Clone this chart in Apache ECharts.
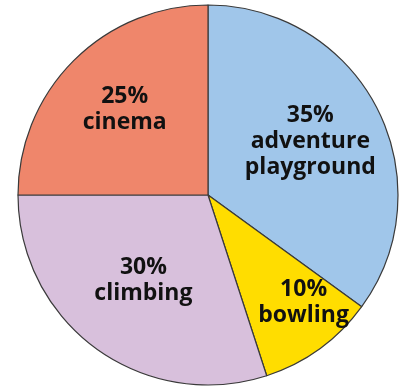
<!DOCTYPE html>
<html>
<head>
<meta charset="utf-8">
<script src="https://cdn.jsdelivr.net/npm/echarts@6/dist/echarts.min.js"></script>
<style>
html,body{margin:0;padding:0;background:#fff;}
#chart{width:401px;height:388px;}
</style>
</head>
<body>
<div id="chart"></div>
<script>
const categories = ['adventure\nplayground', 'bowling', 'climbing', 'cinema'];
const values = [35, 10, 30, 25];
const colors = ['#A0C6EA', '#FFDD00', '#D8C0DC', '#EF866B'];
const labelOffsets = [[15, -9], [38, 28], [-7, 6], [-14, -16]];

const chart = echarts.init(document.getElementById('chart'), null, {renderer: 'canvas'});
chart.setOption({
  animation: false,
  series: [{
    type: 'pie',
    center: [208, 195],
    radius: [0, 190],
    startAngle: 90,
    clockwise: true,
    avoidLabelOverlap: false,
    itemStyle: { borderColor: '#3a3a3a', borderWidth: 1.2 },
    emphasis: { disabled: true },
    label: {
      show: true,
      position: 'inside',
      formatter: '{c}%\n{b}',
      fontFamily: 'Open Sans',
      fontWeight: 'bold',
      fontSize: 23,
      lineHeight: 26,
      color: '#111'
    },
    labelLine: { show: false },
    data: categories.map((name, i) => ({
      name: name,
      value: values[i],
      itemStyle: { color: colors[i] },
      label: { offset: labelOffsets[i] }
    }))
  }]
});
</script>
</body>
</html>
